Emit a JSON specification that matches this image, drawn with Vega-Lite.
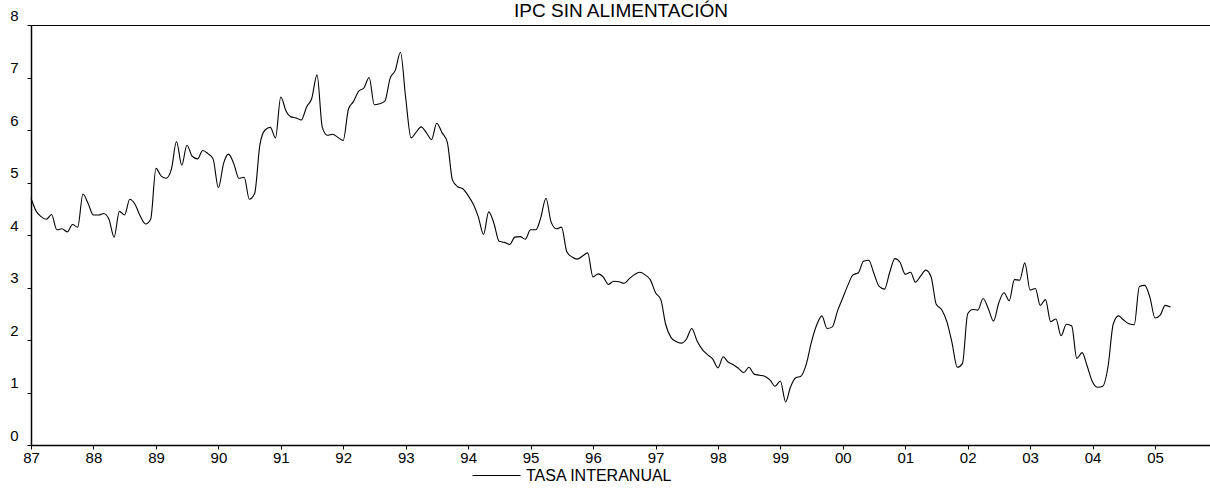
{
  "$schema": "https://vega.github.io/schema/vega-lite/v6.json",
  "width": 1180,
  "height": 420,
  "autosize": {"type": "none"},
  "padding": {"left": 31, "top": 25, "right": 0, "bottom": 43},
  "background": "white",
  "title": {"text": "IPC SIN ALIMENTACIÓN", "anchor": "middle", "font": "Liberation Sans", "fontSize": 19, "fontWeight": "normal", "color": "black", "baseline": "alphabetic", "offset": 0, "dy": 28},
  "config": {"view": {"stroke": "black", "strokeWidth": 1}, "font": "Liberation Sans"},
  "data": {"values": [
    {"d": "1987-01-01", "v": 4.70}, {"d": "1987-02-01", "v": 4.45}, {"d": "1987-03-01", "v": 4.35}, {"d": "1987-04-01", "v": 4.30}, {"d": "1987-05-01", "v": 4.39}, {"d": "1987-06-01", "v": 4.10}, {"d": "1987-07-01", "v": 4.12}, {"d": "1987-08-01", "v": 4.06}, {"d": "1987-09-01", "v": 4.20}, {"d": "1987-10-01", "v": 4.15}, {"d": "1987-11-01", "v": 4.78}, {"d": "1987-12-01", "v": 4.60},
    {"d": "1988-01-01", "v": 4.38}, {"d": "1988-02-01", "v": 4.38}, {"d": "1988-03-01", "v": 4.41}, {"d": "1988-04-01", "v": 4.30}, {"d": "1988-05-01", "v": 3.96}, {"d": "1988-06-01", "v": 4.45}, {"d": "1988-07-01", "v": 4.38}, {"d": "1988-08-01", "v": 4.68}, {"d": "1988-09-01", "v": 4.58}, {"d": "1988-10-01", "v": 4.36}, {"d": "1988-11-01", "v": 4.21}, {"d": "1988-12-01", "v": 4.30},
    {"d": "1989-01-01", "v": 5.27}, {"d": "1989-02-01", "v": 5.12}, {"d": "1989-03-01", "v": 5.08}, {"d": "1989-04-01", "v": 5.25}, {"d": "1989-05-01", "v": 5.78}, {"d": "1989-06-01", "v": 5.33}, {"d": "1989-07-01", "v": 5.71}, {"d": "1989-08-01", "v": 5.50}, {"d": "1989-09-01", "v": 5.45}, {"d": "1989-10-01", "v": 5.61}, {"d": "1989-11-01", "v": 5.55}, {"d": "1989-12-01", "v": 5.45},
    {"d": "1990-01-01", "v": 4.90}, {"d": "1990-02-01", "v": 5.37}, {"d": "1990-03-01", "v": 5.54}, {"d": "1990-04-01", "v": 5.36}, {"d": "1990-05-01", "v": 5.08}, {"d": "1990-06-01", "v": 5.10}, {"d": "1990-07-01", "v": 4.68}, {"d": "1990-08-01", "v": 4.79}, {"d": "1990-09-01", "v": 5.72}, {"d": "1990-10-01", "v": 6.00}, {"d": "1990-11-01", "v": 6.05}, {"d": "1990-12-01", "v": 5.85},
    {"d": "1991-01-01", "v": 6.63}, {"d": "1991-02-01", "v": 6.36}, {"d": "1991-03-01", "v": 6.25}, {"d": "1991-04-01", "v": 6.23}, {"d": "1991-05-01", "v": 6.19}, {"d": "1991-06-01", "v": 6.44}, {"d": "1991-07-01", "v": 6.60}, {"d": "1991-08-01", "v": 7.05}, {"d": "1991-09-01", "v": 6.05}, {"d": "1991-10-01", "v": 5.90}, {"d": "1991-11-01", "v": 5.92}, {"d": "1991-12-01", "v": 5.86},
    {"d": "1992-01-01", "v": 5.80}, {"d": "1992-02-01", "v": 6.40}, {"d": "1992-03-01", "v": 6.54}, {"d": "1992-04-01", "v": 6.74}, {"d": "1992-05-01", "v": 6.80}, {"d": "1992-06-01", "v": 7.00}, {"d": "1992-07-01", "v": 6.48}, {"d": "1992-08-01", "v": 6.50}, {"d": "1992-09-01", "v": 6.55}, {"d": "1992-10-01", "v": 6.98}, {"d": "1992-11-01", "v": 7.14}, {"d": "1992-12-01", "v": 7.48},
    {"d": "1993-01-01", "v": 6.60}, {"d": "1993-02-01", "v": 5.85}, {"d": "1993-03-01", "v": 5.95}, {"d": "1993-04-01", "v": 6.06}, {"d": "1993-05-01", "v": 5.95}, {"d": "1993-06-01", "v": 5.82}, {"d": "1993-07-01", "v": 6.13}, {"d": "1993-08-01", "v": 5.95}, {"d": "1993-09-01", "v": 5.77}, {"d": "1993-10-01", "v": 5.05}, {"d": "1993-11-01", "v": 4.92}, {"d": "1993-12-01", "v": 4.88},
    {"d": "1994-01-01", "v": 4.75}, {"d": "1994-02-01", "v": 4.58}, {"d": "1994-03-01", "v": 4.35}, {"d": "1994-04-01", "v": 4.01}, {"d": "1994-05-01", "v": 4.44}, {"d": "1994-06-01", "v": 4.22}, {"d": "1994-07-01", "v": 3.88}, {"d": "1994-08-01", "v": 3.86}, {"d": "1994-09-01", "v": 3.82}, {"d": "1994-10-01", "v": 3.96}, {"d": "1994-11-01", "v": 3.97}, {"d": "1994-12-01", "v": 3.92},
    {"d": "1995-01-01", "v": 4.10}, {"d": "1995-02-01", "v": 4.10}, {"d": "1995-03-01", "v": 4.32}, {"d": "1995-04-01", "v": 4.70}, {"d": "1995-05-01", "v": 4.25}, {"d": "1995-06-01", "v": 4.12}, {"d": "1995-07-01", "v": 4.15}, {"d": "1995-08-01", "v": 3.68}, {"d": "1995-09-01", "v": 3.58}, {"d": "1995-10-01", "v": 3.54}, {"d": "1995-11-01", "v": 3.60}, {"d": "1995-12-01", "v": 3.66},
    {"d": "1996-01-01", "v": 3.20}, {"d": "1996-02-01", "v": 3.26}, {"d": "1996-03-01", "v": 3.20}, {"d": "1996-04-01", "v": 3.06}, {"d": "1996-05-01", "v": 3.12}, {"d": "1996-06-01", "v": 3.11}, {"d": "1996-07-01", "v": 3.08}, {"d": "1996-08-01", "v": 3.17}, {"d": "1996-09-01", "v": 3.25}, {"d": "1996-10-01", "v": 3.29}, {"d": "1996-11-01", "v": 3.24}, {"d": "1996-12-01", "v": 3.15},
    {"d": "1997-01-01", "v": 2.90}, {"d": "1997-02-01", "v": 2.77}, {"d": "1997-03-01", "v": 2.30}, {"d": "1997-04-01", "v": 2.05}, {"d": "1997-05-01", "v": 1.97}, {"d": "1997-06-01", "v": 1.94}, {"d": "1997-07-01", "v": 2.02}, {"d": "1997-08-01", "v": 2.22}, {"d": "1997-09-01", "v": 1.98}, {"d": "1997-10-01", "v": 1.82}, {"d": "1997-11-01", "v": 1.72}, {"d": "1997-12-01", "v": 1.64},
    {"d": "1998-01-01", "v": 1.47}, {"d": "1998-02-01", "v": 1.68}, {"d": "1998-03-01", "v": 1.58}, {"d": "1998-04-01", "v": 1.53}, {"d": "1998-05-01", "v": 1.46}, {"d": "1998-06-01", "v": 1.38}, {"d": "1998-07-01", "v": 1.48}, {"d": "1998-08-01", "v": 1.35}, {"d": "1998-09-01", "v": 1.33}, {"d": "1998-10-01", "v": 1.31}, {"d": "1998-11-01", "v": 1.24}, {"d": "1998-12-01", "v": 1.12},
    {"d": "1999-01-01", "v": 1.22}, {"d": "1999-02-01", "v": 0.82}, {"d": "1999-03-01", "v": 1.10}, {"d": "1999-04-01", "v": 1.28}, {"d": "1999-05-01", "v": 1.31}, {"d": "1999-06-01", "v": 1.53}, {"d": "1999-07-01", "v": 1.95}, {"d": "1999-08-01", "v": 2.28}, {"d": "1999-09-01", "v": 2.46}, {"d": "1999-10-01", "v": 2.22}, {"d": "1999-11-01", "v": 2.25}, {"d": "1999-12-01", "v": 2.55},
    {"d": "2000-01-01", "v": 2.80}, {"d": "2000-02-01", "v": 3.05}, {"d": "2000-03-01", "v": 3.24}, {"d": "2000-04-01", "v": 3.28}, {"d": "2000-05-01", "v": 3.50}, {"d": "2000-06-01", "v": 3.52}, {"d": "2000-07-01", "v": 3.27}, {"d": "2000-08-01", "v": 3.02}, {"d": "2000-09-01", "v": 2.97}, {"d": "2000-10-01", "v": 3.28}, {"d": "2000-11-01", "v": 3.55}, {"d": "2000-12-01", "v": 3.48},
    {"d": "2001-01-01", "v": 3.25}, {"d": "2001-02-01", "v": 3.29}, {"d": "2001-03-01", "v": 3.10}, {"d": "2001-04-01", "v": 3.22}, {"d": "2001-05-01", "v": 3.33}, {"d": "2001-06-01", "v": 3.20}, {"d": "2001-07-01", "v": 2.68}, {"d": "2001-08-01", "v": 2.58}, {"d": "2001-09-01", "v": 2.35}, {"d": "2001-10-01", "v": 1.95}, {"d": "2001-11-01", "v": 1.48}, {"d": "2001-12-01", "v": 1.55},
    {"d": "2002-01-01", "v": 2.50}, {"d": "2002-02-01", "v": 2.58}, {"d": "2002-03-01", "v": 2.57}, {"d": "2002-04-01", "v": 2.79}, {"d": "2002-05-01", "v": 2.60}, {"d": "2002-06-01", "v": 2.36}, {"d": "2002-07-01", "v": 2.70}, {"d": "2002-08-01", "v": 2.90}, {"d": "2002-09-01", "v": 2.75}, {"d": "2002-10-01", "v": 3.15}, {"d": "2002-11-01", "v": 3.14}, {"d": "2002-12-01", "v": 3.47},
    {"d": "2003-01-01", "v": 2.95}, {"d": "2003-02-01", "v": 2.98}, {"d": "2003-03-01", "v": 2.66}, {"d": "2003-04-01", "v": 2.77}, {"d": "2003-05-01", "v": 2.35}, {"d": "2003-06-01", "v": 2.40}, {"d": "2003-07-01", "v": 2.08}, {"d": "2003-08-01", "v": 2.30}, {"d": "2003-09-01", "v": 2.27}, {"d": "2003-10-01", "v": 1.65}, {"d": "2003-11-01", "v": 1.76}, {"d": "2003-12-01", "v": 1.50},
    {"d": "2004-01-01", "v": 1.20}, {"d": "2004-02-01", "v": 1.10}, {"d": "2004-03-01", "v": 1.12}, {"d": "2004-04-01", "v": 1.50}, {"d": "2004-05-01", "v": 2.30}, {"d": "2004-06-01", "v": 2.46}, {"d": "2004-07-01", "v": 2.38}, {"d": "2004-08-01", "v": 2.31}, {"d": "2004-09-01", "v": 2.29}, {"d": "2004-10-01", "v": 3.02}, {"d": "2004-11-01", "v": 3.04}, {"d": "2004-12-01", "v": 2.82},
    {"d": "2005-01-01", "v": 2.42}, {"d": "2005-02-01", "v": 2.48}, {"d": "2005-03-01", "v": 2.66}, {"d": "2005-04-01", "v": 2.63}
  ]},
  "mark": {"type": "line", "interpolate": "monotone", "strokeWidth": 1.1},
  "encoding": {
    "x": {
      "field": "d", "type": "temporal",
      "scale": {"type": "utc", "domain": [{"year": 1987, "month": 1, "date": 1, "utc": true}, {"year": 2005, "month": 11, "date": 24, "utc": true}]},
      "axis": {"title": null, "labelExpr": "utcFormat(datum.value, '%y')", "tickCount": {"interval": "year", "step": 1}, "grid": false,
        "labelFont": "Liberation Sans", "labelFontSize": 15, "labelColor": "black", "labelPadding": 1, "labelFlush": false, "labelOverlap": false,
        "tickColor": "black", "tickSize": 4, "tickWidth": 1, "domainColor": "black", "domainWidth": 1.5}
    },
    "y": {
      "field": "v", "type": "quantitative",
      "scale": {"domain": [0, 8], "nice": false, "zero": false},
      "axis": {"title": null, "values": [0, 1, 2, 3, 4, 5, 6, 7, 8], "grid": false,
        "labelFont": "Liberation Sans", "labelFontSize": 15, "labelColor": "black", "labelPadding": 9, "labelOffset": -10, "labelFlush": false, "labelOverlap": false,
        "tickColor": "black", "tickSize": 4, "tickWidth": 1, "domainColor": "black", "domainWidth": 1.5}
    },
    "color": {
      "datum": "TASA INTERANUAL",
      "scale": {"range": ["black"]},
      "legend": {"title": null, "orient": "none", "legendX": 441, "legendY": 426, "symbolType": "stroke", "symbolSize": 2304, "symbolStrokeWidth": 1, "symbolStrokeColor": "black",
        "labelFont": "Liberation Sans", "labelFontSize": 16, "labelColor": "black", "labelOffset": 5, "padding": 0}
    }
  }
}
